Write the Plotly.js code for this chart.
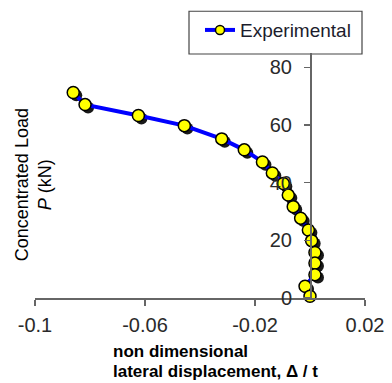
<!DOCTYPE html>
<html>
<head>
<meta charset="utf-8">
<script src="https://cdn.plot.ly/plotly-3.0.1.min.js"></script>
<style>html,body{margin:0;padding:0;background:#fff;}#chart{width:392px;height:383px;}</style>
</head>
<body>
<div id="chart"></div>
<script>
// Data
const seriesName = "Experimental";
const displacement = [-0.0861, -0.0818, -0.0624, -0.0457, -0.0321, -0.0239, -0.0173, -0.0137, -0.0097, -0.0079, -0.0061, -0.0034, -0.0006, 0.0006, 0.0018, 0.0018, 0.0018, -0.0018, 0.0000];
const load = [71.3, 67.1, 63.3, 59.8, 55.2, 51.4, 47.2, 43.4, 39.7, 35.7, 31.7, 27.7, 23.6, 19.9, 15.8, 12.1, 8.1, 4.1, 0.6];
const xTickVals = [-0.1, -0.06, -0.02, 0.02];
const xTickText = ["-0.1", "-0.06", "-0.02", "0.02"];
const yTickVals = [0, 20, 40, 60, 80];
const yTickText = ["0", "20", "40", "60", "80"];
const yTitleLines = ["Concentrated Load", "<i>P</i> (kN)"];
const xTitleLines = ["non dimensional", "lateral displacement, Δ / t"];

const xRange = [-0.1, 0.02];
const yRange = [0, 85];
// shadow offset (in data units) for drop shadow layer
const sdx = 0.0011, sdy = 1.0;

const tickFont = {family: "Liberation Sans, Arial, sans-serif", size: 20, color: "#2a2a2a"};

const shadow = {
  x: displacement, y: load, xaxis: "x", yaxis: "y",
  mode: "markers", showlegend: false, hoverinfo: "skip", cliponaxis: false,
  marker: {size: 12, color: "rgba(0,0,0,0.9)", line: {width: 0}}
};
const main = {
  x: displacement, y: load, xaxis: "x2", yaxis: "y2",
  name: seriesName, mode: "lines+markers", cliponaxis: false, showlegend: false,
  line: {color: "#0000ff", width: 4},
  marker: {size: 12, color: "#ffff00", line: {color: "#000", width: 1.5}}
};
// legend-only entry (no data) so the legend symbol uses a smaller marker
const legendEntry = {
  x: [null], y: [null], xaxis: "x2", yaxis: "y2",
  name: seriesName, mode: "lines+markers", showlegend: true,
  line: {color: "#0000ff", width: 4},
  marker: {size: 9, color: "#ffff00", line: {color: "#000", width: 1.5}}
};

const W = 392, H = 383;
const mL = 35, mR = 27, mT = 52, mB = 84.5;
const pw = W - mL - mR, ph = H - mT - mB;
const px = v => (v - mL) / pw;
const py = v => (H - mB - v) / ph;

const titleFont = {family: "Liberation Sans, Arial, sans-serif", size: 17, color: "#000"};

const layout = {
  width: W, height: H,
  margin: {l: mL, r: mR, t: mT, b: mB, pad: 0},
  paper_bgcolor: "#fff", plot_bgcolor: "rgba(0,0,0,0)",
  showlegend: true,
  xaxis: {range: [xRange[0] - sdx, xRange[1] - sdx], visible: false, fixedrange: true},
  yaxis: {range: [yRange[0] + sdy, yRange[1] + sdy], visible: false, fixedrange: true},
  xaxis2: {
    overlaying: "x", anchor: "y2", range: xRange,
    showgrid: false, zeroline: false, showline: true, linecolor: "#666", linewidth: 1.5,
    ticks: "outside", ticklen: 6, tickcolor: "#666", tickwidth: 1.5,
    tickmode: "array", tickvals: xTickVals, ticktext: xTickText,
    ticklabelstandoff: 2,
    tickfont: tickFont
  },
  yaxis2: {
    overlaying: "y", anchor: "free", position: (0 - xRange[0]) / (xRange[1] - xRange[0]),
    range: yRange,
    showgrid: false, zeroline: false, showline: true, linecolor: "#666", linewidth: 1.5,
    ticks: "outside", ticklen: 6, tickcolor: "#666", tickwidth: 1.5,
    tickmode: "array", tickvals: yTickVals, ticktext: yTickText,
    ticklabelstandoff: 8,
    tickfont: tickFont
  },
  legend: {
    x: px(200), y: py(11), xanchor: "left", yanchor: "top",
    bgcolor: "rgba(0,0,0,0)", borderwidth: 0,
    font: {family: "Liberation Sans, Arial, sans-serif", size: 19, color: "#1c1c2c"}
  },
  shapes: [{
    type: "rect", xref: "paper", yref: "paper",
    x0: px(189), x1: px(362), y0: py(53), y1: py(10),
    line: {color: "#444", width: 1.2}, fillcolor: "#fff", layer: "below"
  }],
  annotations: [
    {
      xref: "paper", yref: "paper", x: px(33), y: py(185),
      xanchor: "center", yanchor: "middle", textangle: -90, showarrow: false,
      text: yTitleLines.join("<br>"),
      font: {family: "Liberation Sans, Arial, sans-serif", size: 18, color: "#000"}
    },
    {
      xref: "paper", yref: "paper", x: px(111), y: py(352),
      xanchor: "left", yanchor: "middle", align: "left", showarrow: false,
      text: "<b>" + xTitleLines[0] + "</b>", font: titleFont
    },
    {
      xref: "paper", yref: "paper", x: px(111), y: py(372),
      xanchor: "left", yanchor: "middle", align: "left", showarrow: false,
      text: "<b>" + xTitleLines[1] + "</b>", font: titleFont
    }
  ]
};

Plotly.newPlot("chart", [shadow, main, legendEntry], layout, {displayModeBar: false, staticPlot: true});
</script>
</body>
</html>
